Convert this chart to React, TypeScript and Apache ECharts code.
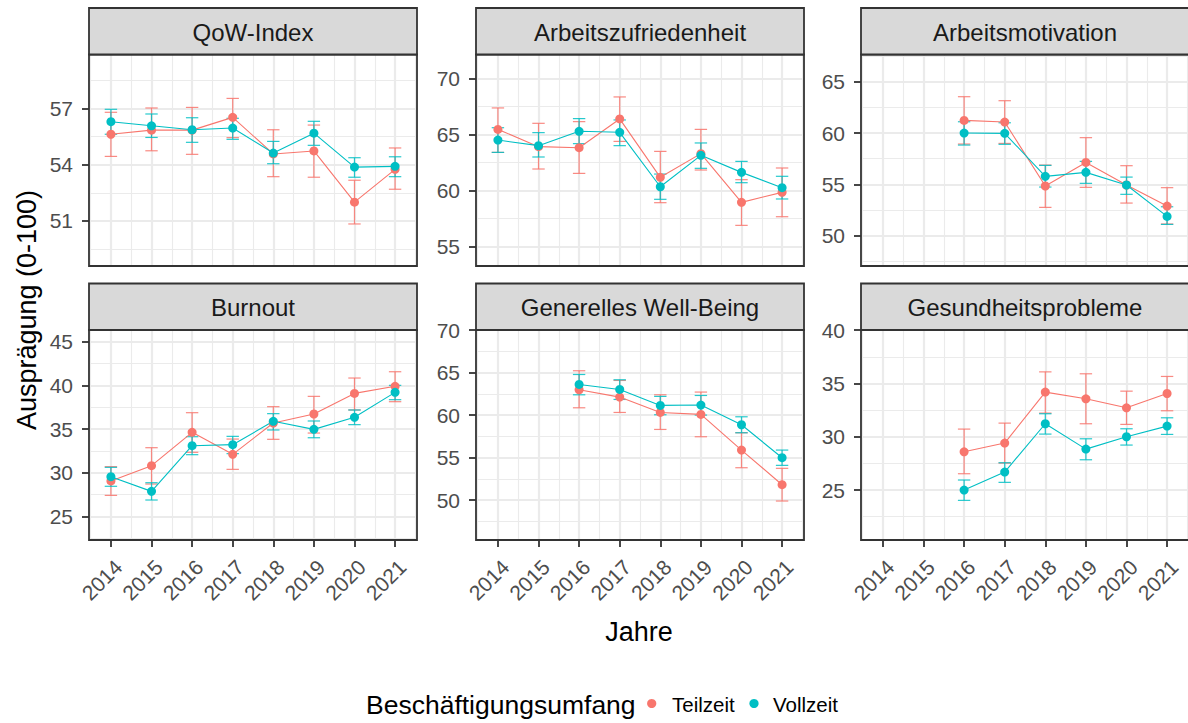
import React, { useEffect, useRef } from "react";
import * as echarts from "echarts";

const years = [2014, 2015, 2016, 2017, 2018, 2019, 2020, 2021];
const groupNames = ["Teilzeit", "Vollzeit"];
const groupColors = ["#F8766D", "#00BFC4"];
const panelTitles = ["QoW-Index", "Arbeitszufriedenheit", "Arbeitsmotivation", "Burnout", "Generelles Well-Being", "Gesundheitsprobleme"];
const xTitle = "Jahre";
const yTitle = "Ausprägung (0-100)";
const legendTitle = "Beschäftigungsumfang";

// QoW-Index
const qowTeilzeit = [55.62, 55.84, 55.84, 56.52, 54.57, 54.73, 52.0, 53.75];
const qowTeilzeitLo = [54.44, 54.74, 54.55, 55.44, 53.36, 53.33, 50.84, 52.69];
const qowTeilzeitHi = [56.79, 57.02, 57.05, 57.53, 55.86, 56.11, 53.17, 54.89];
const qowVollzeit = [56.29, 56.07, 55.86, 55.95, 54.62, 55.68, 53.87, 53.91];
const qowVollzeitLo = [55.62, 55.45, 55.19, 55.35, 54.05, 55.03, 53.33, 53.36];
const qowVollzeitHi = [56.95, 56.7, 56.5, 56.47, 55.24, 56.31, 54.37, 54.42];
const qowTicks = [51, 54, 57];
const qowRange = [48.6, 59.87];

// Arbeitszufriedenheit
const zufTeilzeit = [65.45, 63.91, 63.82, 66.38, 61.18, 63.29, 58.95, 59.84];
const zufTeilzeitLo = [63.4, 61.92, 61.53, 64.38, 58.92, 61.83, 56.9, 57.67];
const zufTeilzeitHi = [67.36, 65.99, 66.14, 68.34, 63.49, 65.45, 60.97, 62.01];
const zufVollzeit = [64.5, 64.0, 65.28, 65.19, 60.34, 63.14, 61.62, 60.26];
const zufVollzeitLo = [63.4, 62.99, 64.18, 64.0, 59.22, 61.98, 60.7, 59.25];
const zufVollzeitHi = [65.6, 65.16, 66.41, 66.29, 61.47, 64.24, 62.6, 61.27];
const zufTicks = [55, 60, 65, 70];
const zufRange = [53.28, 72.12];

// Arbeitsmotivation
const motTeilzeit = [null, null, 61.23, 61.07, 54.84, 57.14, 54.94, 52.89];
const motTeilzeitLo = [null, null, 58.93, 58.99, 52.76, 54.71, 53.18, 51.14];
const motTeilzeitHi = [null, null, 63.54, 63.15, 56.88, 59.55, 56.82, 54.68];
const motVollzeit = [null, null, 60.0, 59.97, 55.78, 56.17, 54.94, 51.88];
const motVollzeitLo = [null, null, 58.83, 58.9, 54.74, 55.1, 54.03, 51.1];
const motVollzeitHi = [null, null, 61.1, 61.0, 56.85, 57.24, 55.71, 52.82];
const motTicks = [50, 55, 60, 65];
const motRange = [47.05, 67.65];

// Burnout
const burTeilzeit = [29.05, 30.8, 34.62, 32.1, 35.69, 36.72, 39.08, 39.89];
const burTeilzeitLo = [27.4, 28.7, 32.33, 30.38, 33.82, 34.54, 37.18, 38.13];
const burTeilzeitHi = [30.69, 32.86, 36.87, 33.85, 37.56, 38.74, 40.84, 41.56];
const burVollzeit = [29.54, 27.86, 33.09, 33.21, 35.88, 34.96, 36.34, 39.2];
const burVollzeitLo = [28.44, 26.87, 32.06, 32.18, 34.89, 34.0, 35.5, 38.36];
const burVollzeitHi = [30.61, 28.85, 34.12, 34.16, 36.76, 35.92, 37.18, 40.0];
const burTicks = [25, 30, 35, 40, 45];
const burRange = [22.29, 46.34];

// Generelles Well-Being
const wbTeilzeit = [null, null, 62.98, 62.12, 60.31, 60.08, 55.88, 51.8];
const wbTeilzeitLo = [null, null, 60.86, 60.31, 58.31, 57.45, 53.8, 49.88];
const wbTeilzeitHi = [null, null, 65.22, 64.08, 62.39, 62.71, 57.92, 53.73];
const wbVollzeit = [null, null, 63.61, 63.02, 61.14, 61.18, 58.86, 54.98];
const wbVollzeitLo = [null, null, 62.39, 61.84, 60.04, 60.0, 57.92, 54.08];
const wbVollzeitHi = [null, null, 64.78, 64.16, 62.2, 62.31, 59.8, 55.88];
const wbTicks = [50, 55, 60, 65, 70];
const wbRange = [45.29, 70.02];

// Gesundheitsprobleme
const gesTeilzeit = [null, null, 28.59, 29.41, 34.19, 33.56, 32.72, 34.06];
const gesTeilzeitLo = [null, null, 26.53, 27.53, 32.22, 31.22, 31.16, 32.44];
const gesTeilzeitHi = [null, null, 30.72, 31.28, 36.09, 35.91, 34.28, 35.66];
const gesVollzeit = [null, null, 25.0, 26.69, 31.22, 28.84, 30.0, 31.0];
const gesVollzeitLo = [null, null, 24.03, 25.72, 30.25, 27.84, 29.22, 30.22];
const gesVollzeitHi = [null, null, 25.94, 27.56, 32.16, 29.81, 30.75, 31.78];
const gesTicks = [25, 30, 35, 40];
const gesRange = [20.31, 40.02];

const xRange = [2013.46, 2021.54];

const panels = [
  { title: panelTitles[0], ticks: qowTicks, range: qowRange, groups: [[qowTeilzeit, qowTeilzeitLo, qowTeilzeitHi], [qowVollzeit, qowVollzeitLo, qowVollzeitHi]] },
  { title: panelTitles[1], ticks: zufTicks, range: zufRange, groups: [[zufTeilzeit, zufTeilzeitLo, zufTeilzeitHi], [zufVollzeit, zufVollzeitLo, zufVollzeitHi]] },
  { title: panelTitles[2], ticks: motTicks, range: motRange, groups: [[motTeilzeit, motTeilzeitLo, motTeilzeitHi], [motVollzeit, motVollzeitLo, motVollzeitHi]] },
  { title: panelTitles[3], ticks: burTicks, range: burRange, groups: [[burTeilzeit, burTeilzeitLo, burTeilzeitHi], [burVollzeit, burVollzeitLo, burVollzeitHi]] },
  { title: panelTitles[4], ticks: wbTicks, range: wbRange, groups: [[wbTeilzeit, wbTeilzeitLo, wbTeilzeitHi], [wbVollzeit, wbVollzeitLo, wbVollzeitHi]] },
  { title: panelTitles[5], ticks: gesTicks, range: gesRange, groups: [[gesTeilzeit, gesTeilzeitLo, gesTeilzeitHi], [gesVollzeit, gesVollzeitLo, gesVollzeitHi]] },
];

const FONT = "'Liberation Sans', Arial, Helvetica, sans-serif";
const COL_LEFT = [89, 476, 861];
const PANEL_W = 328;
const ROW_TOP = [54.5, 330];
const ROW_H = [211.5, 210];
const STRIP_TOP = [8, 283.5];
const GRID_MAJOR = "#EBEBEB";
const LEGEND_KEYS = [{ dotX: 651.7, textX: 672 }, { dotX: 754, textX: 773 }];
const LEGEND_Y = 703.5;

function minorsOf(ticks: number[], range: number[]) {
  const step = ticks[1] - ticks[0];
  const out: number[] = [];
  for (let v = ticks[0] - step * 1.5; v <= range[1]; v += step) {
    if (v >= range[0] && v <= range[1]) out.push(v);
  }
  return out;
}

function buildOption() {
  const grid: any[] = [];
  const xAxis: any[] = [];
  const yAxis: any[] = [];
  const series: any[] = [];
  const graphic: any[] = [];
  const xMinor = [2013.5, ...years.map((y) => y + 0.5)].filter((v) => v > xRange[0] && v < xRange[1]);

  panels.forEach((p, i) => {
    const row = Math.floor(i / 3);
    const col = i % 3;
    const left = COL_LEFT[col];
    const top = ROW_TOP[row];
    const h = ROW_H[row];
    const bottomRow = row === 1;
    grid.push({ left, top, width: PANEL_W, height: h, show: true, backgroundColor: "#FFFFFF", borderWidth: 0, containLabel: false, outerBoundsMode: "none" });

    xAxis.push({
      gridIndex: i, type: "value", min: xRange[0], max: xRange[1], position: "bottom",
      axisLine: { show: false },
      axisTick: { show: bottomRow, length: 7, customValues: years, lineStyle: { color: "#333333", width: 1.8 } },
      axisLabel: {
        show: bottomRow, customValues: years, rotate: 45, align: "right", verticalAlign: "top", margin: 16,
        fontSize: 21, color: "#4D4D4D", fontFamily: FONT, formatter: (v: number) => String(Math.round(v)),
      },
      splitLine: { show: true, lineStyle: { color: GRID_MAJOR, width: 2.2 } },
    });
    xAxis.push({
      gridIndex: i, type: "value", min: xRange[0], max: xRange[1], position: "top",
      axisLine: { show: false }, axisTick: { show: false, customValues: xMinor }, axisLabel: { show: false },
      splitLine: { show: true, lineStyle: { color: GRID_MAJOR, width: 1.1 } },
    });
    yAxis.push({
      gridIndex: i, type: "value", min: p.range[0], max: p.range[1], position: "left",
      axisLine: { show: false },
      axisTick: { show: true, length: 7, customValues: p.ticks, lineStyle: { color: "#333333", width: 1.8 } },
      axisLabel: { customValues: p.ticks, margin: 16, fontSize: 21, color: "#4D4D4D", fontFamily: FONT, formatter: (v: number) => String(Math.round(v)) },
      splitLine: { show: true, lineStyle: { color: GRID_MAJOR, width: 2.2 } },
    });
    yAxis.push({
      gridIndex: i, type: "value", min: p.range[0], max: p.range[1], position: "right",
      axisLine: { show: false }, axisTick: { show: false, customValues: minorsOf(p.ticks, p.range) }, axisLabel: { show: false },
      splitLine: { show: true, lineStyle: { color: GRID_MAJOR, width: 1.1 } },
    });

    p.groups.forEach((g, k) => {
      const [mean, lo, hi] = g;
      const color = groupColors[k];
      const errData = years.map((y, j) => [y, lo[j], hi[j]]).filter((d) => d[1] != null);
      series.push({
        type: "custom", name: groupNames[k], xAxisIndex: 2 * i, yAxisIndex: 2 * i, z: 2,
        data: errData, encode: { x: 0, y: [1, 2] }, silent: true, itemStyle: { color },
        renderItem: (params: any, api: any) => {
          const x = api.value(0);
          const a = api.coord([x, api.value(1)]);
          const b = api.coord([x, api.value(2)]);
          const hw = 6.2;
          const st = { stroke: color, lineWidth: 1.2, opacity: 0.85 };
          return {
            type: "group",
            children: [
              { type: "line", shape: { x1: a[0], y1: a[1], x2: b[0], y2: b[1] }, style: st },
              { type: "line", shape: { x1: a[0] - hw, y1: a[1], x2: a[0] + hw, y2: a[1] }, style: st },
              { type: "line", shape: { x1: b[0] - hw, y1: b[1], x2: b[0] + hw, y2: b[1] }, style: st },
            ],
          };
        },
      });
    });
    p.groups.forEach((g, k) => {
      const pts = years.map((y, j) => [y, g[0][j]]).filter((d) => d[1] != null);
      series.push({
        type: "line", name: groupNames[k], xAxisIndex: 2 * i, yAxisIndex: 2 * i, z: 3,
        data: pts, showSymbol: false, symbol: "none", silent: true,
        lineStyle: { color: groupColors[k], width: 1.1 }, itemStyle: { color: groupColors[k] },
      });
    });
    p.groups.forEach((g, k) => {
      const pts = years.map((y, j) => [y, g[0][j]]).filter((d) => d[1] != null);
      series.push({
        type: "scatter", name: groupNames[k], xAxisIndex: 2 * i, yAxisIndex: 2 * i, z: 4,
        data: pts, symbol: "circle", symbolSize: 9, silent: true,
        itemStyle: { color: groupColors[k], opacity: 1 },
      });
    });

    graphic.push({
      type: "rect", z: 100, silent: true,
      shape: { x: left, y: top, width: PANEL_W, height: h },
      style: { fill: "none", stroke: "#333333", lineWidth: 1.8 },
    });
    const sTop = STRIP_TOP[row];
    graphic.push({
      type: "rect", z: 100, silent: true,
      shape: { x: left, y: sTop, width: PANEL_W, height: top - sTop },
      style: { fill: "#D9D9D9", stroke: "#333333", lineWidth: 1.8 },
    });
    graphic.push({
      type: "text", z: 101, silent: true,
      x: left + PANEL_W / 2, y: sTop + (top - sTop) / 2 + 1,
      style: { text: p.title, fontSize: 24, fontFamily: FONT, fill: "#1A1A1A", align: "center", verticalAlign: "middle" },
    });
  });

  graphic.push({
    type: "text", z: 101, silent: true, x: 27, y: 310, rotation: Math.PI / 2,
    style: { text: yTitle, fontSize: 27, fontFamily: FONT, fill: "#000000", align: "center", verticalAlign: "middle" },
  });
  graphic.push({
    type: "text", z: 101, silent: true, x: 639, y: 632,
    style: { text: xTitle, fontSize: 27, fontFamily: FONT, fill: "#000000", align: "center", verticalAlign: "middle" },
  });
  graphic.push({
    type: "text", z: 101, silent: true, x: 366, y: 705,
    style: { text: legendTitle, fontSize: 26.5, fontFamily: FONT, fill: "#000000", align: "left", verticalAlign: "middle" },
  });
  groupNames.forEach((n, k) => {
    graphic.push({
      type: "circle", z: 101, silent: true,
      shape: { cx: LEGEND_KEYS[k].dotX, cy: LEGEND_Y, r: 4.6 },
      style: { fill: groupColors[k] },
    });
    graphic.push({
      type: "text", z: 101, silent: true, x: LEGEND_KEYS[k].textX, y: LEGEND_Y + 1,
      style: { text: n, fontSize: 20.5, fontFamily: FONT, fill: "#000000", align: "left", verticalAlign: "middle" },
    });
  });

  return {
    animation: false,
    backgroundColor: "#FFFFFF",
    grid,
    xAxis,
    yAxis,
    series,
    graphic,
  };
}

export default function App() {
  const ref = useRef<HTMLDivElement>(null);
  useEffect(() => {
    if (!ref.current) return;
    const chart = echarts.init(ref.current, undefined, { renderer: "svg" });
    chart.setOption(buildOption() as any);
    return () => chart.dispose();
  }, []);
  return <div ref={ref} style={{ position: "absolute", left: 0, top: 0, width: 1188, height: 723 }} />;
}
